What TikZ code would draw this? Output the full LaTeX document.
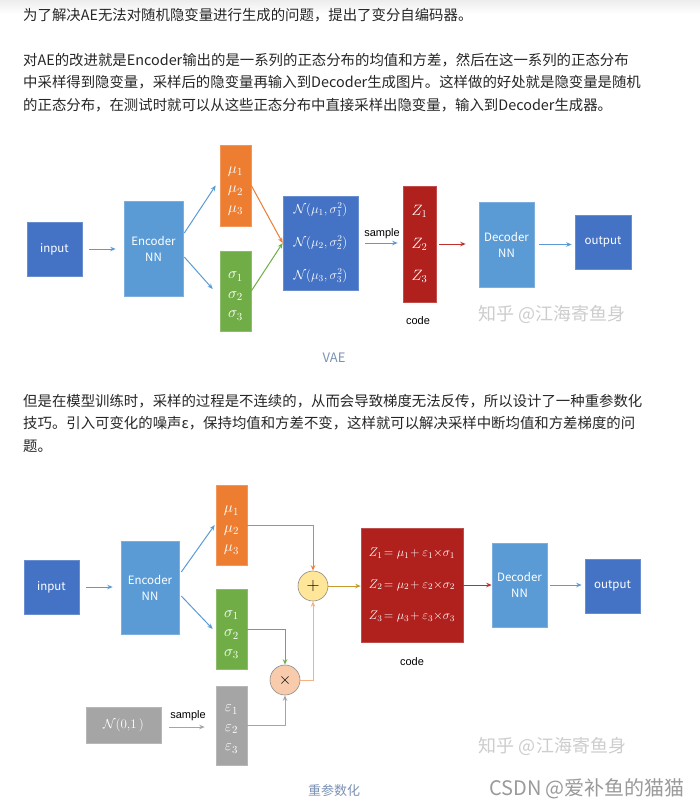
\RequirePackage{fix-cm}
\documentclass[tikz,border=0pt]{standalone}
\usepackage{fontspec}
\setmainfont{Noto Sans CJK SC}
\newfontfamily\cjk{Noto Sans CJK SC}
\newfontfamily\arialf{Liberation Sans}
\usetikzlibrary{arrows.meta,calc}
\definecolor{dblue}{HTML}{4472C4}
\definecolor{lblue}{HTML}{5B9BD5}
\definecolor{orng}{HTML}{ED7D31}
\definecolor{grn}{HTML}{70AD47}
\definecolor{redc}{HTML}{B0201C}
\definecolor{gryc}{HTML}{A5A5A5}
\definecolor{txt}{HTML}{262626}
\definecolor{capc}{HTML}{7C92B4}
\definecolor{wm}{HTML}{CDCDCD}
\definecolor{csdn}{HTML}{9A9A9A}
\definecolor{plusc}{HTML}{FFE699}
\definecolor{timesc}{HTML}{F8CBAD}
\definecolor{goldc}{HTML}{C49A2C}
\definecolor{lorng}{HTML}{F4B183}
\definecolor{redarr}{HTML}{C0302A}
\begin{document}
\begin{tikzpicture}[x=1pt,y=-1pt,
  box/.style={draw=#1!80!white, fill=#1, line width=0.6pt, inner sep=0pt, text=white, align=center},
  wlab/.style={font=\fontsize{11.5}{16}\selectfont},
  mtxt/.style={inner sep=0pt, text=white, align=center, font=\fontsize{15.5}{19.5}\selectfont},
  para/.style={anchor=west, inner sep=0pt, text=txt, font=\cjk\fontsize{14.4}{17}\selectfont, text height=11.5pt, text depth=1pt},
  lab/.style={inner sep=0pt, text=black, font=\arialf\fontsize{11}{13}\selectfont},
  capt/.style={inner sep=0pt, text=capc, font=\cjk\fontsize{13}{15}\selectfont},
  arr/.style={-{Stealth[length=5.5pt,width=4.5pt]}, line width=1pt},
  opc/.style={circle, draw=black!45, line width=0.6pt, minimum size=30pt, inner sep=0pt}
]
\useasboundingbox (0,0) rectangle (700,807);
\fill[white] (0,0) rectangle (700,807);
\shade[top color=black!7, bottom color=white] (0,0) rectangle (700,14);

% text block 1
\node[para] (p1) at (23,15) {为了解决AE无法对随机隐变量进行生成的问题，提出了变分自编码器。};
\node[para] (p2) at (23,60) {对AE的改进就是Encoder输出的是一系列的正态分布的均值和方差，然后在这一系列的正态分布};
\node[para] (p3) at (23,82) {中采样得到隐变量，采样后的隐变量再输入到Decoder生成图片。这样做的好处就是隐变量是随机};
\node[para] (p4) at (23,105) {的正态分布，在测试时就可以从这些正态分布中直接采样出隐变量，输入到Decoder生成器。};

% upper diagram
\node[box=dblue, minimum width=55, minimum height=54, wlab] (in1) at (54.5,249) {input};
\node[box=lblue, minimum width=59, minimum height=95, wlab] (enc1) at (153.5,248.5) {Encoder\\NN};
\node[box=orng, minimum width=31, minimum height=81] (mu1) at (235.5,185.5) {};
\node[mtxt] (mu1t) at ([yshift=-5.5pt]mu1.center) {$\mu_1$\\$\mu_2$\\$\mu_3$};
\node[box=grn, minimum width=31, minimum height=80] (sig1) at (235.5,291) {};
\node[mtxt] (sig1t) at ([yshift=-5pt]sig1.center) {$\sigma_1$\\$\sigma_2$\\$\sigma_3$};
\node[box=dblue, minimum width=75, minimum height=94, font=\fontsize{13}{33}\selectfont] (N1) at (320.5,243)
  {$\mathcal{N}(\mu_1,\sigma_1^2)$\\$\mathcal{N}(\mu_2,\sigma_2^2)$\\$\mathcal{N}(\mu_3,\sigma_3^2)$};
\node[box=redc, minimum width=33, minimum height=116, font=\fontsize{15}{32.5}\selectfont] (Z1) at (419.5,244) {$Z_1$\\$Z_2$\\$Z_3$};
\node[box=lblue, minimum width=55, minimum height=85, wlab] (dec1) at (506.5,244.5) {Decoder\\NN};
\node[box=dblue, minimum width=56, minimum height=54, wlab] (out1) at (603,242) {output};
\node[lab] (smp1) at (382,234) {sample};
\node[lab] (code1) at (418,321) {code};
\node[capt] (cap1) at (334,358) {VAE};
\node[inner sep=0pt, text=wm, font=\cjk\fontsize{18}{18}\selectfont] (wm1) at (552,314) {知乎 @江海寄鱼身};

\draw[arr,lblue,shorten <=7pt,shorten >=8pt] (in1.east) -- (in1.east -| enc1.west);
\draw[arr,lblue] ([xshift=1pt,yshift=15.5pt]enc1.east) -- ([xshift=-4pt]mu1.west);
\draw[arr,lblue] ([xshift=1pt,yshift=-8.5pt]enc1.east) -- ([xshift=-7pt,yshift=2pt]sig1.west);
\draw[arr,orng] (mu1.east) -- (N1.west);
\draw[arr,grn] (sig1.east) -- (N1.west);
\draw[arr,lblue,shorten <=7pt,shorten >=5pt] (N1.east) -- (N1.east -| Z1.west);
\draw[arr,redarr,shorten <=3pt,shorten >=13pt] (Z1.east) -- (Z1.east -| dec1.west);
\draw[arr,lblue,shorten <=5pt,shorten >=3pt] (dec1.east) -- (dec1.east -| out1.west);

% text block 2
\node[para] (q1) at (23,401) {但是在模型训练时，采样的过程是不连续的，从而会导致梯度无法反传，所以设计了一种重参数化};
\node[para] (q2) at (23,423) {技巧。引入可变化的噪声ε，保持均值和方差不变，这样就可以解决采样中断均值和方差梯度的问};
\node[para] (q3) at (23,446) {题。};

% lower diagram
\node[box=dblue, minimum width=55, minimum height=54, wlab] (in2) at (51.5,587) {input};
\node[box=lblue, minimum width=58, minimum height=93, wlab] (enc2) at (150,587.5) {Encoder\\NN};
\node[box=orng, minimum width=31, minimum height=80] (mu2) at (231.5,525) {};
\node[mtxt] (mu2t) at ([yshift=-5.5pt]mu2.center) {$\mu_1$\\$\mu_2$\\$\mu_3$};
\node[box=grn, minimum width=31, minimum height=80] (sig2) at (231.5,629) {};
\node[mtxt] (sig2t) at ([yshift=-5.5pt]sig2.center) {$\sigma_1$\\$\sigma_2$\\$\sigma_3$};
\node[box=gryc, minimum width=31, minimum height=79] (eps2) at (231.5,725.5) {};
\node[mtxt] (eps2t) at ([yshift=-3.5pt]eps2.center) {$\varepsilon_1$\\$\varepsilon_2$\\$\varepsilon_3$};
\node[box=gryc, minimum width=75, minimum height=36, font=\fontsize{13}{15}\selectfont] (N01) at (123.5,725) {$\mathcal{N}(0{,}1\,)$};
\node[opc, fill=plusc] (plus) at (313,586) {\fontsize{18}{18}\selectfont$+$};
\node[opc, fill=timesc] (times) at (285,680) {\fontsize{16}{16}\selectfont$\times$};
\node[box=redc, minimum width=102, minimum height=114, font=\fontsize{12.5}{31.5}\selectfont] (Z2) at (412,585)
  {$Z_1\!= \mu_1\!+ \varepsilon_1{\times}\sigma_1$\\$Z_2\!= \mu_2\!+ \varepsilon_2{\times}\sigma_2$\\$Z_3\!= \mu_3\!+ \varepsilon_3{\times}\sigma_3$};
\node[box=lblue, minimum width=55, minimum height=84, wlab] (dec2) at (519.5,585) {Decoder\\NN};
\node[box=dblue, minimum width=55, minimum height=54, wlab] (out2) at (612.5,586) {output};
\node[lab] (smp2) at (188,716) {sample};
\node[lab] (code2) at (412,662) {code};
\node[capt] (cap2) at (334,791) {重参数化};
\node[inner sep=0pt, text=wm, font=\cjk\fontsize{18}{18}\selectfont] (wm2) at (552.5,746) {知乎 @江海寄鱼身};
\node[inner sep=0pt, text=csdn, font=\cjk\fontsize{20}{21}\selectfont] (csdn) at (587,789) {CSDN @爱补鱼的猫猫};

\draw[arr,lblue,shorten <=7pt,shorten >=8pt] (in2.east) -- (in2.east -| enc2.west);
\draw[arr,lblue] ([xshift=2pt,yshift=15.5pt]enc2.east) -- ([xshift=-1pt]mu2.west);
\draw[arr,lblue] ([xshift=2pt,yshift=-8.5pt]enc2.east) -- ([xshift=-3pt]sig2.west);
\draw[arr,orng] (mu2.east) -| (plus.north);
\draw[arr,grn] (sig2.east) -| (times.north);
\draw[arr,gryc] (eps2.east) -| (times.south);
\draw[arr,lorng] (times.east) -| (plus.south);
\draw[arr,goldc] (plus.east) -- (plus.east -| Z2.west);
\draw[arr,redarr] (Z2.east) -- (Z2.east -| dec2.west);
\draw[arr,lblue,shorten <=3pt,shorten >=3pt] (dec2.east) -- (dec2.east -| out2.west);
\draw[arr,gryc,shorten <=8pt,shorten >=11pt] ([yshift=-2pt]N01.east) -- ([yshift=-2pt]N01.east -| eps2.west);
\end{tikzpicture}
\end{document}
